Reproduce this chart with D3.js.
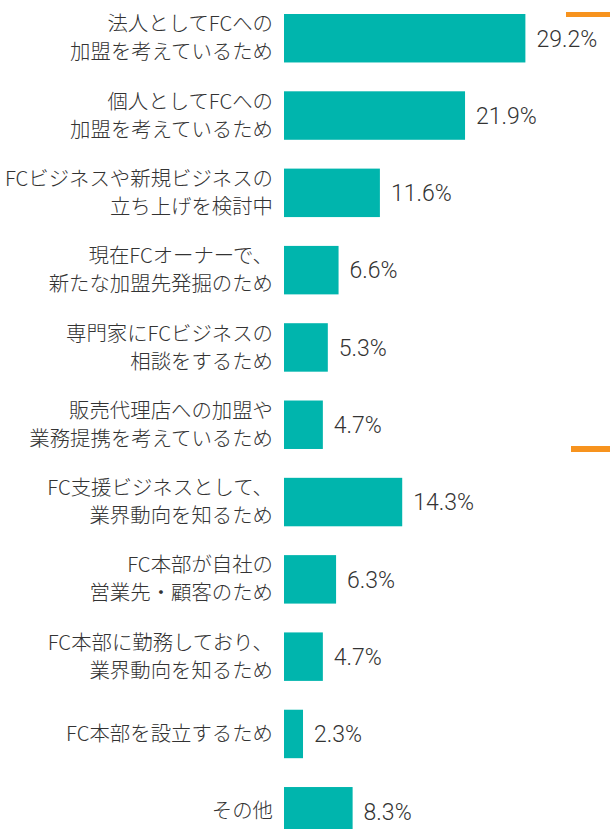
<!DOCTYPE html>
<html>
<head>
<meta charset="utf-8">
<script src="https://cdn.jsdelivr.net/npm/d3@7"></script>
<style>
	body { margin: 0; background: #fff; }
	svg { display: block; }
	.label { font-family: "Noto Sans CJK JP", sans-serif; font-weight: 300; font-size: 20.4px; fill: #333; }
	.value { font-family: Roboto, "Liberation Sans", sans-serif; font-weight: 300; font-size: 23px; fill: #333; }
</style>
</head>
<body>
<svg id="chart" width="610" height="829"></svg>
<script>
var labels = [
	["法人としてFCへの", "加盟を考えているため"],
	["個人としてFCへの", "加盟を考えているため"],
	["FCビジネスや新規ビジネスの", "立ち上げを検討中"],
	["現在FCオーナーで、", "新たな加盟先発掘のため"],
	["専門家にFCビジネスの", "相談をするため"],
	["販売代理店への加盟や", "業務提携を考えているため"],
	["FC支援ビジネスとして、", "業界動向を知るため"],
	["FC本部が自社の", "営業先・顧客のため"],
	["FC本部に勤務しており、", "業界動向を知るため"],
	["FC本部を設立するため"],
	["その他"]
];
var values = [29.2, 21.9, 11.6, 6.6, 5.3, 4.7, 14.3, 6.3, 4.7, 2.3, 8.3];

var svg = d3.select("#chart");

var ids = d3.range(values.length);

var x = d3.scaleLinear()
	.domain([0, 30])
	.range([284, 532]);

var y = d3.scaleBand()
	.domain(ids)
	.range([14, 835.5])
	.paddingInner(0.373)
	.paddingOuter(0);

/* bars */
svg.selectAll("rect.bar")
	.data(ids)
	.enter()
	.append("rect")
	.attr("class", "bar")
	.attr("x", x(0))
	.attr("y", function(i) { return y(i); })
	.attr("width", function(i) { return x(values[i]) - x(0); })
	.attr("height", y.bandwidth())
	.attr("fill", "#00b5ad");

/* value labels */
svg.selectAll("text.value")
	.data(ids)
	.enter()
	.append("text")
	.attr("class", "value")
	.attr("x", function(i) { return x(values[i]) + 11; })
	.attr("y", function(i) { return y(i) + y.bandwidth() / 2; })
	.attr("dy", "0.36em")
	.text(function(i) { return values[i].toFixed(1) + "%"; });

/* category labels */
var lab = svg.selectAll("text.label")
	.data(ids)
	.enter()
	.append("text")
	.attr("class", "label")
	.attr("text-anchor", "end");

lab.each(function(i) {
	var lines = labels[i];
	var cy = y(i) + y.bandwidth() / 2;
	var lh = 28;
	var t = d3.select(this);
	lines.forEach(function(s, k) {
		t.append("tspan")
			.attr("x", 273)
			.attr("y", cy + (k - (lines.length - 1) / 2) * lh)
			.attr("dy", "0.35em")
			.text(s);
	});
});

/* orange markers on the right */
svg.append("rect")
	.attr("x", 566)
	.attr("y", 12)
	.attr("width", 44)
	.attr("height", 5)
	.attr("fill", "#f7931e");

svg.append("rect")
	.attr("x", 571)
	.attr("y", 446)
	.attr("width", 39)
	.attr("height", 6)
	.attr("fill", "#f7931e");
</script>
</body>
</html>
